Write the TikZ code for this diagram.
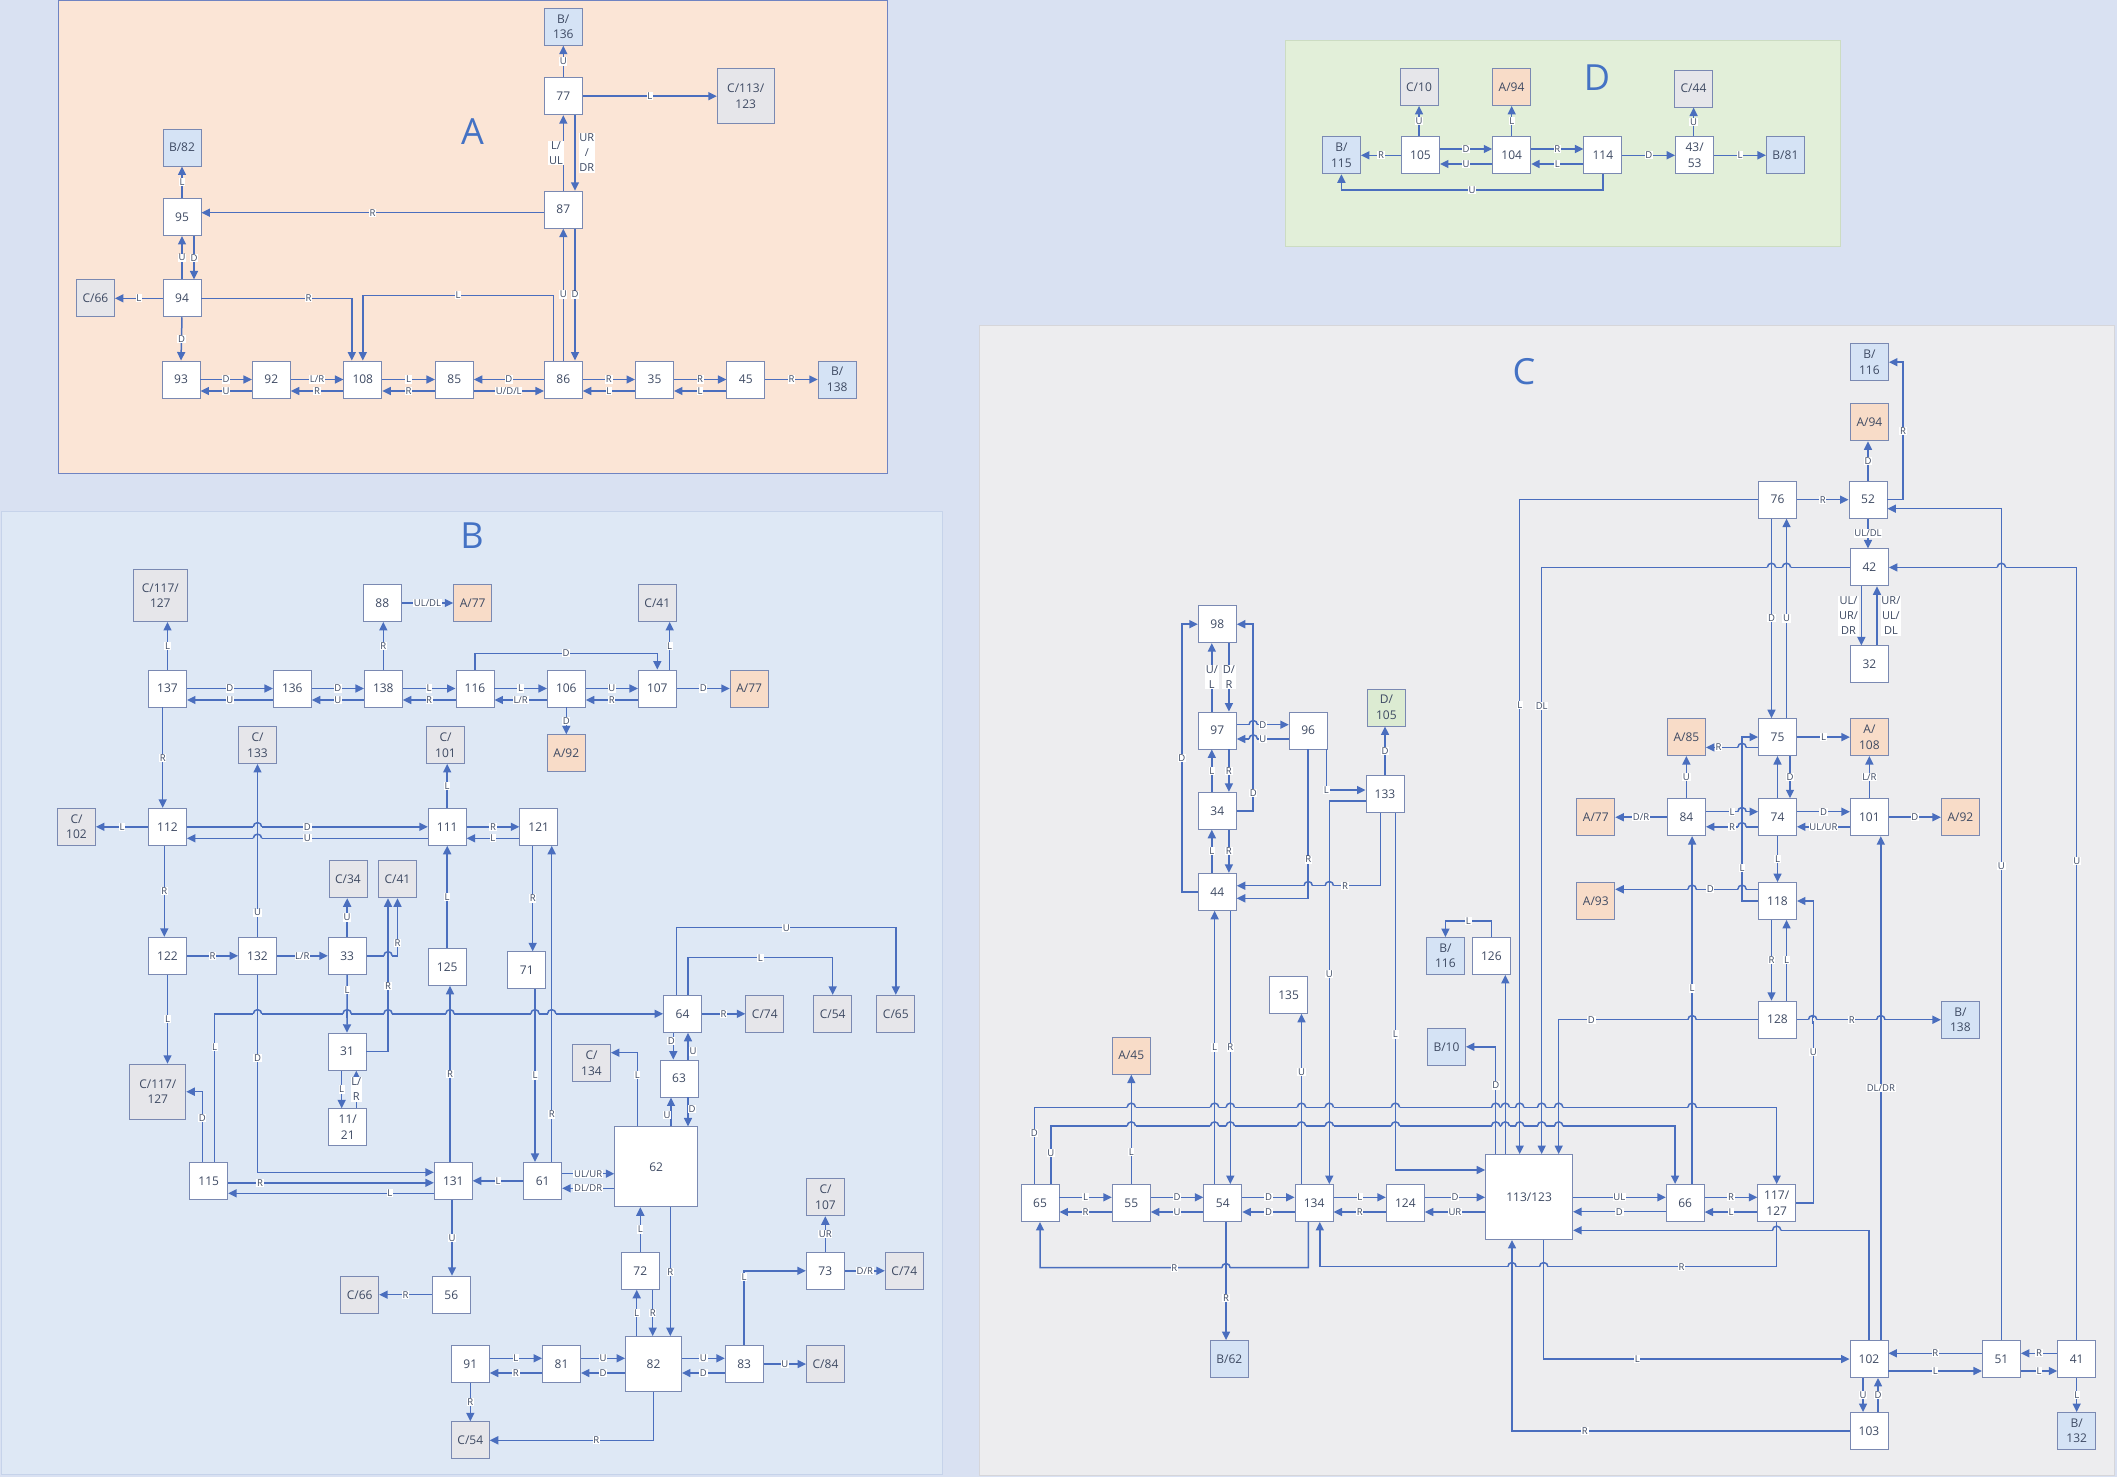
\documentclass[tikz,border=0pt]{standalone}
\usepackage{fontspec}
\setmainfont{Open Sans}
\usetikzlibrary{arrows.meta,calc}
\definecolor{pagebg}{HTML}{D9E1F2}
\definecolor{Afill}{HTML}{FBE5D6}
\definecolor{Bfill}{HTML}{DEE8F5}
\definecolor{Cfill}{HTML}{EDEDEF}
\definecolor{Dfill}{HTML}{E2EFD9}
\definecolor{Aframe}{HTML}{6F83C2}
\definecolor{Bframe}{HTML}{C6D3EA}
\definecolor{Cframe}{HTML}{D6D6DA}
\definecolor{Dframe}{HTML}{CCDCC2}
\definecolor{nbd}{HTML}{7A89B2}
\definecolor{ntx}{HTML}{3E4A63}
\definecolor{ec}{HTML}{4A6EBE}
\definecolor{crefc}{HTML}{E6E6EA}
\definecolor{arefc}{HTML}{F8DCC8}
\definecolor{brefc}{HTML}{D5E3F5}
\definecolor{drefc}{HTML}{DCEBD2}
\definecolor{letc}{HTML}{4472C4}
\newcommand\hpairA[6]{%
  \draw[ar] ([yshift=#5]#1.east) -- node[lb]{#3} ([yshift=#5]#1.east -| #2.west);
  \draw[ar] ([yshift=#6]#1.east -| #2.west) -- node[lb]{#4} ([yshift=#6]#1.east);}
\newcommand\hpairB[6]{%
  \draw[ar] ([yshift=#5]#1.east -| #2.west) -- node[lb]{#3} ([yshift=#5]#1.east);
  \draw[ar] ([yshift=#6]#1.east) -- node[lb]{#4} ([yshift=#6]#1.east -| #2.west);}
% line hop: x, y, background colour
\newcommand\hop[3]{%
  \fill[#3] (#1-4.2,#2-1.4) rectangle (#1+4.2,#2+1.4);
  \draw[ec,line width=1.5pt] (#1,#2-4.5) -- (#1,#2+4.5);
  \draw[ec,line width=1.5pt] (#1-4.2,#2) arc[start angle=180,end angle=360,radius=4.2];}
\begin{document}
\begin{tikzpicture}[x=1pt,y=-1pt,
  box/.style={draw=nbd, line width=0.9pt, fill=white, minimum width=38pt, minimum height=37pt, inner sep=0pt, text=ntx, font=\fontsize{12}{15.5}\selectfont, align=center},
  cref/.style={box, fill=crefc},
  aref/.style={box, fill=arefc},
  bref/.style={box, fill=brefc},
  dref/.style={box, fill=drefc},
  ar/.style={draw=ec, line width=1.5pt, -{Triangle[length=8.5pt,width=8pt]}},
  lb/.style={fill=white, inner sep=0.7pt, text=ntx, font=\fontsize{9.5}{11}\selectfont},
  lbm/.style={lb, align=center, font=\fontsize{11}{15}\selectfont},
  regl/.style={text=letc, font=\fontsize{36}{36}\selectfont, inner sep=0pt}]
\useasboundingbox (0,0) rectangle (2117,1477);
\fill[pagebg] (0,0) rectangle (2117,1477);
% region frames
\draw[fill=Afill, draw=Aframe, line width=1pt] (58,1) rectangle (887,473);
\draw[fill=Bfill, draw=Bframe, line width=1pt] (1,511) rectangle (942,1474);
\draw[fill=Cfill, draw=Cframe, line width=1pt] (979,325) rectangle (2114,1475);
\draw[fill=Dfill, draw=Dframe, line width=1pt] (1285,41) rectangle (1840,246);
\node[regl] (labA) at (472.5,132) {A};
\node[regl] (labB) at (472,536) {B};
\node[regl] (labC) at (1524,372) {C};
\node[regl] (labD) at (1597,78) {D};

% ================= A =================
\node[box] (a77) at (563.3,96.2) {77};
\node[bref] (aB136) at (563.3,26.8) {B/\\136};
\node[cref, minimum width=57pt, minimum height=55pt] (aC113) at (745.7,96.2) {C/113/\\123};
\node[box] (a87) at (563.3,209.7) {87};
\node[bref] (aB82) at (182,147.5) {B/82};
\node[box] (a95) at (182,217) {95};
\node[box] (a94) at (182,298.3) {94};
\node[cref] (aC66) at (95.5,298.3) {C/66};
\node[box] (a93) at (181,379.5) {93};
\node[box] (a92) at (271.3,379.5) {92};
\node[box] (a108) at (362.8,379.5) {108};
\node[box] (a85) at (454.3,379.5) {85};
\node[box] (a86) at (563.3,379.5) {86};
\node[box] (a35) at (654.5,379.5) {35};
\node[box] (a45) at (745.8,379.5) {45};
\node[bref] (aB138) at (837.2,379.5) {B/\\138};

\draw[ar] (a77.north) -- node[lb]{U} (aB136.south);
\draw[ar] (a77.east) -- node[lb]{L} (aC113.west);
\draw[ar] (a87.north) -- node[lbm,anchor=east,xshift=1pt]{L/\\UL} (a77.south);
\draw[ar] ([xshift=11.7pt]a77.south) -- node[lbm,anchor=west,xshift=3pt]{UR\\/\\DR} ([xshift=11.7pt]a87.north);
\draw[ar] (a86.north) -- node[lb]{U} (a87.south);
\draw[ar] ([xshift=11.7pt]a87.south) -- node[lb]{D} ([xshift=11.7pt]a86.north);
\draw[ar] ([yshift=-3pt]a87.west) -- node[lb]{R} ([yshift=-3pt]a87.west -| a95.east);
\draw[ar] (a95.north) -- node[lb]{L} (aB82.south);
\draw[ar] (a94.north) -- node[lb]{U} (a95.south);
\draw[ar] ([xshift=12pt]a95.south) -- node[lb]{D} ([xshift=12pt]a94.north);
\draw[ar] (a94.west) -- node[lb]{L} (aC66.east);
\draw[ar] (a94.south) -- node[lb]{D} (a93.north);
\draw[ar] (a94.east) -| node[lb,pos=0.356]{R} ([xshift=-11pt]a108.north);
\draw[ar] ([xshift=-10pt]a86.north) -- (553.3,295.3) -- node[lb]{L} (362.8,295.3) -- (a108.north);
\hpairA{a93}{a92}{D}{U}{0pt}{-11.5pt}
\hpairA{a92}{a108}{L/R}{R}{0pt}{-11.5pt}
\hpairA{a108}{a85}{L}{R}{0pt}{-11.5pt}
\hpairB{a85}{a86}{D}{U/D/L}{0pt}{-11.5pt}
\hpairA{a86}{a35}{R}{L}{0pt}{-11.5pt}
\hpairA{a35}{a45}{R}{L}{0pt}{-11.5pt}
\draw[ar] (a45.east) -- node[lb]{R} (aB138.west);

% ================= D =================
\node[cref] (dC10) at (1419,87) {C/10};
\node[aref] (dA94) at (1511.5,87) {A/94};
\node[cref] (dC44) at (1693.5,88.7) {C/44};
\node[bref] (dB115) at (1341.4,155.3) {B/\\115};
\node[box] (d105) at (1420.5,155.3) {105};
\node[box] (d104) at (1511.7,155.3) {104};
\node[box] (d114) at (1602.8,155.3) {114};
\node[box] (d43) at (1694.6,155.3) {43/\\53};
\node[bref] (dB81) at (1785.4,155.3) {B/81};

\draw[ar] ([xshift=-1.5pt]d105.north) -- node[lb]{U} ([xshift=-1.5pt]d105.north |- dC10.south);
\draw[ar] (d104.north) -- node[lb]{L} (d104.north |- dA94.south);
\draw[ar] ([xshift=-1pt]d43.north) -- node[lb]{U} ([xshift=-1pt]d43.north |- dC44.south);
\draw[ar] (d105.west) -- node[lb]{R} (dB115.east);
\hpairA{d105}{d104}{D}{U}{6.3pt}{-8.7pt}
\hpairA{d104}{d114}{R}{L}{6.3pt}{-8.7pt}
\draw[ar] (d114.east) -- node[lb]{D} (d43.west);
\draw[ar] (d43.east) -- node[lb]{L} (dB81.west);
\draw[ar] (d114.south) -- (1602.8,190) -- node[lb]{U} (1341.4,190) -- (dB115.south);

% ================= B =================
\node[cref, minimum width=54pt, minimum height=52pt] (bC117t) at (160.3,595.5) {C/117/\\127};
\node[box] (b88) at (382.3,603) {88};
\node[aref] (bA77t) at (472.7,603) {A/77};
\node[cref] (bC41t) at (657.3,603) {C/41};
\node[box] (b137) at (167.5,688.5) {137};
\node[box] (b136) at (292.3,688.5) {136};
\node[box] (b138) at (383.3,688.5) {138};
\node[box] (b116) at (475,688.5) {116};
\node[box] (b106) at (566.3,688.5) {106};
\node[box] (b107) at (657.3,688.5) {107};
\node[aref] (bA77r) at (749.2,688.5) {A/77};
\node[aref] (bA92) at (566.3,753.3) {A/92};
\node[cref] (bC133) at (257.5,745) {C/\\133};
\node[cref] (bC101) at (445.5,745) {C/\\101};
\node[cref] (bC102) at (76.5,826.8) {C/\\102};
\node[box] (b112) at (167.5,826.8) {112};
\node[box] (b111) at (447.2,826.8) {111};
\node[box] (b121) at (538.7,826.8) {121};
\node[cref] (bC34) at (348,879.3) {C/34};
\node[cref] (bC41m) at (397.5,879.3) {C/41};
\node[box] (b122) at (167.5,955.8) {122};
\node[box] (b132) at (257.5,955.8) {132};
\node[box] (b33) at (347.2,955.8) {33};
\node[box] (b125) at (447.2,966.8) {125};
\node[box] (b71) at (526.8,970.2) {71};
\node[box] (b31) at (347,1051.7) {31};
\node[box] (b1121) at (347.8,1127.2) {11/\\21};
\node[cref, minimum width=56pt, minimum height=55pt] (bC117b) at (157.8,1091.7) {C/117/\\127};
\node[box] (b115) at (208.7,1180.8) {115};
\node[box] (b131) at (453.3,1180.8) {131};
\node[box] (b61) at (542.7,1180.8) {61};
\node[box, minimum width=83pt, minimum height=80pt] (b62) at (656.2,1166.8) {62};
\node[box] (b56) at (451.3,1294.7) {56};
\node[cref] (bC66) at (359.7,1294.7) {C/66};
\node[box] (b64) at (682.5,1013.8) {64};
\node[cref] (bC74u) at (764.8,1013.8) {C/74};
\node[cref] (bC54u) at (832.7,1013.8) {C/54};
\node[cref] (bC65) at (895.8,1013.8) {C/65};
\node[cref] (bC134) at (591.5,1063.2) {C/\\134};
\node[box] (b63) at (679,1078.5) {63};
\node[cref] (bC107) at (825.5,1197.3) {C/\\107};
\node[box] (b72) at (640.3,1270.8) {72};
\node[box] (b73) at (825.3,1270.8) {73};
\node[cref] (bC74l) at (904.3,1270.8) {C/74};
\node[box] (b91) at (470.3,1364) {91};
\node[box] (b81) at (561.5,1364) {81};
\node[box, minimum width=56pt, minimum height=55pt] (b82) at (653.5,1364) {82};
\node[box] (b83) at (744.2,1364) {83};
\node[cref] (bC84) at (825.5,1364) {C/84};
\node[cref] (bC54l) at (470.3,1440.3) {C/54};

\draw[ar] (b137.north) -- node[lb]{L} (b137.north |- bC117t.south);
\hpairA{b137}{b136}{D}{U}{0pt}{-11.5pt}
\hpairA{b136}{b138}{D}{U}{0pt}{-11.5pt}
\hpairA{b138}{b116}{L}{R}{0pt}{-11.5pt}
\hpairA{b116}{b106}{L}{L/R}{0pt}{-11.5pt}
\hpairA{b106}{b107}{U}{R}{0pt}{-11.5pt}
\draw[ar] (b138.north) -- node[lb]{R} (b138.north |- b88.south);
\draw[ar] (b88.east) -- node[lb]{UL/DL} (bA77t.west);
\draw[ar] (b116.north) -- (475,653.3) -- node[lb]{D} (657.3,653.3) -- (b107.north);
\draw[ar] ([xshift=12.4pt]b107.north) -- node[lb]{L} ([xshift=12.4pt]bC41t.south);
\draw[ar] (b107.east) -- node[lb]{D} (bA77r.west);
\draw[ar] (b106.south) -- node[lb]{D} (bA92.north);
\draw[ar] ([xshift=-4.8pt]b137.south) -- node[lb]{R} ([xshift=-4.8pt]b112.north);
\draw[ar] (b112.west) -- node[lb]{L} (bC102.east);
\hpairA{b112}{b111}{D}{U}{0pt}{-11.5pt}
\hpairA{b111}{b121}{R}{L}{0pt}{-11.5pt}
\draw[ar] (b111.north) -- node[lb]{L} (b111.north |- bC101.south);
\draw[ar] (b125.north) -- node[lb]{L} (b125.north |- b111.south);
\draw[ar] ([xshift=-6pt]b121.south) -- node[lb]{R} ([xshift=-6pt]b121.south |- b71.north);
\draw[ar] ([xshift=9pt]b61.north) -- node[lb,pos=0.15]{R} ([xshift=9pt]b61.north |- b121.south);
\draw[ar] ([xshift=8.2pt]b71.south) -- node[lb]{L} ([xshift=8.2pt]b71.south |- b61.north);
\draw[ar] ([xshift=-3.2pt]b112.south) -- node[lb]{R} ([xshift=-3.2pt]b122.north);
\draw[ar] (b122.east) -- node[lb]{R} (b132.west);
\draw[ar] (b132.east) -- node[lb]{L/R} (b33.west);
\draw[ar] (b132.north) -- node[lb,pos=0.14]{U} (bC133.south);
\draw[ar] (b33.north) -- node[lb]{U} (b33.north |- bC34.south);
\draw[ar] (b33.east) -| node[lb,pos=0.61]{R} (bC41m.south);
\draw[ar] (b31.east) -| node[lb,pos=0.715]{R} ([xshift=-9.5pt]bC41m.south);
\draw[ar] (b33.south) -- node[lb,pos=0.26]{L} (b31.north);
\draw[ar] ([xshift=-5.3pt]b31.south) -- node[lb]{L} ([xshift=-5.3pt]b31.south |- b1121.north);
\draw[ar] ([xshift=8.5pt]b1121.north) -- node[lbm]{L/\\R} ([xshift=8.5pt]b1121.north |- b31.south);
\draw[ar] (b122.south) -- node[lb]{L} (b122.south |- bC117b.north);
\draw[ar] ([xshift=-6.4pt]b115.north) |- node[lb,pos=0.31]{D} (bC117b.east);
\draw[ar] ([xshift=6pt]b115.north) |- node[lb,pos=0.387]{L} (b64.west);
\draw[ar] (b132.south) |- node[lb,pos=0.21]{D} ([yshift=8.5pt]b131.west);
\draw[ar] ([yshift=-2pt]b115.east) -- node[lb,pos=0.155]{R} ([yshift=-2pt]b131.west);
\draw[ar] ([yshift=-12.5pt]b131.west) -- node[lb,pos=0.214]{L} ([yshift=-12.5pt]b115.east);
\draw[ar] ([xshift=-3.3pt]b131.north) -- node[lb]{R} ([xshift=-3.3pt]b131.north |- b125.south);
\draw[ar] (b61.west) -- node[lb]{L} (b131.east);
\draw[ar] ([xshift=-1.3pt]b131.south) -- node[lb]{U} ([xshift=-1.3pt]b131.south |- b56.north);
\draw[ar] (b56.west) -- node[lb]{R} (bC66.east);
\draw[ar] ([yshift=7.1pt]b61.east) -- node[lb]{UL/UR} ([yshift=7.1pt]b61.east -| b62.west);
\draw[ar] ([yshift=-7.5pt]b61.east -| b62.west) -- node[lb]{DL/DR} ([yshift=-7.5pt]b61.east);
\draw[ar] ([xshift=-18.9pt]b62.north) |- node[lb,pos=0.35]{L} ([yshift=10.5pt]bC134.east);
\draw[ar] ([xshift=14.8pt]b62.north) -- node[lb,pos=0.4,xshift=-4pt]{U} ([xshift=14.8pt]b62.north |- b63.south);
\draw[ar] ([xshift=9pt]b63.south) -- node[lb,pos=0.4,xshift=4pt]{D} ([xshift=9pt]b63.south |- b62.north);
\draw[ar] ([xshift=-9.2pt]b64.south) -- node[lb,pos=0.3,xshift=-2pt]{D} ([xshift=-9.2pt]b64.south |- b63.north);
\draw[ar] ([xshift=9pt]b63.north) -- node[lb,pos=0.3,xshift=5pt]{U} ([xshift=9pt]b63.north |- b64.south);
\draw[ar] (b64.east) -- node[lb]{R} (bC74u.west);
\draw[ar] ([xshift=5.5pt]b64.north) -- (688,957.7) -- node[lb]{L} (832.7,957.7) -- (bC54u.north);
\draw[ar] ([xshift=-5.8pt]b64.north) -- (676.7,927.7) -- node[lb]{U} (895.8,927.7) -- (bC65.north);
\draw[ar] (b72.north) -- node[lb]{L} (b72.north |- b62.south);
\draw[ar] ([xshift=14.1pt]b62.south) -- node[lb]{R} ([xshift=14.1pt]b62.south |- b82.north);
\draw[ar] ([xshift=-16.8pt]b82.north) -- node[lb]{L} ([xshift=-16.8pt]b82.north |- b72.south);
\draw[ar] ([xshift=12.4pt]b72.south) -- node[lb]{R} ([xshift=12.4pt]b72.south |- b82.north);
\hpairA{b91}{b81}{L}{R}{5.7pt}{-9pt}
\hpairA{b81}{b82}{U}{D}{5.7pt}{-9pt}
\hpairA{b82}{b83}{U}{D}{5.7pt}{-9pt}
\draw[ar] (b83.east) -- node[lb]{U} (bC84.west);
\draw[ar] (b83.north) |- node[lb,pos=0.46]{L} (b73.west);
\draw[ar] (b73.north) -- node[lb]{UR} (b73.north |- bC107.south);
\draw[ar] (b73.east) -- node[lb]{D/R} (bC74l.west);
\draw[ar] (b91.south) -- node[lb]{R} (bC54l.north);
\draw[ar] (b82.south) |- node[lb,pos=0.675]{R} (bC54l.east);
% hops in B
\hop{257.5}{826.8}{Bfill}
\hop{257.5}{838.3}{Bfill}
\hop{388}{955.8}{Bfill}
\foreach \hx in {257.5,347.1,388,450,535,551.7} {\hop{\hx}{1013.8}{Bfill}}

% ================= C =================
\node[bref] (cB116t) at (1869.4,362.2) {B/\\116};
\node[aref] (cA94) at (1869.4,422.3) {A/94};
\node[box] (c76) at (1777.5,499.7) {76};
\node[box] (c52) at (1868,499.7) {52};
\node[box] (c42) at (1869.4,567.4) {42};
\node[box] (c32) at (1869.4,664.4) {32};
\node[aref] (cA85) at (1686.4,737.1) {A/85};
\node[box] (c75) at (1777.5,737.1) {75};
\node[aref] (cA108) at (1869.4,737.1) {A/\\108};
\node[aref] (cA77) at (1595.8,817.2) {A/77};
\node[box] (c84) at (1686.4,817.2) {84};
\node[box] (c74) at (1777.5,817.2) {74};
\node[box] (c101) at (1869.4,817.2) {101};
\node[aref] (cA92) at (1960.4,817.2) {A/92};
\node[aref] (cA93) at (1595.8,901) {A/93};
\node[box] (c118) at (1777.5,901) {118};
\node[box] (c128) at (1777.5,1019.7) {128};
\node[bref] (cB138) at (1960.4,1019.7) {B/\\138};
\node[box] (c98) at (1217.3,624.2) {98};
\node[box] (c97) at (1217.3,730.5) {97};
\node[box] (c34) at (1217.3,810.8) {34};
\node[box] (c44) at (1217.3,891.8) {44};
\node[box] (c96) at (1308.2,730.5) {96};
\node[box] (c133) at (1385,794.3) {133};
\node[dref] (cD105) at (1386.4,707.5) {D/\\105};
\node[bref] (cB116m) at (1445.4,956) {B/\\116};
\node[box] (c126) at (1491.4,956) {126};
\node[box] (c135) at (1288.6,994.8) {135};
\node[aref] (cA45) at (1131.3,1055.7) {A/45};
\node[bref] (cB10) at (1446.5,1046.8) {B/10};
\node[box] (c65) at (1040,1203) {65};
\node[box] (c55) at (1131.3,1203) {55};
\node[box] (c54) at (1222.8,1203) {54};
\node[box] (c134) at (1314.1,1203) {134};
\node[box] (c124) at (1405.3,1203) {124};
\node[box, minimum width=87pt, minimum height=85pt] (c113) at (1529.1,1197) {113/123};
\node[box] (c66) at (1685.2,1203) {66};
\node[box] (c117) at (1776.7,1203) {117/\\127};
\node[bref] (cB62) at (1229.3,1359) {B/62};
\node[box] (c102) at (1869,1359) {102};
\node[box] (c51) at (2001.4,1359) {51};
\node[box] (c41) at (2076.7,1359) {41};
\node[box] (c103) at (1869,1431) {103};
\node[bref] (cB132) at (2076.7,1431) {B/\\132};

\draw[ar] (c52.north) -- node[lb]{D} (c52.north |- cA94.south);
\draw[ar] (c52.east) -| node[lb,pos=0.75]{R} ([xshift=14.2pt]cB116t.east) -- (cB116t.east);
\draw[ar] (c76.east) -- node[lb]{R} (c52.west);
\draw[ar] (c52.south) -- node[lb]{UL/DL} (c52.south |- c42.north);
\draw[ar] (c76.west) -| node[lb,pos=0.657]{L} ([xshift=-9.4pt]c113.north);
\draw[ar] (c42.west) -| node[lb,pos=0.618]{DL} ([xshift=12.6pt]c113.north);
\draw[ar] ([xshift=-6pt]c76.south) -- node[lb]{D} ([xshift=-6pt]c75.north);
\draw[ar] ([xshift=9pt]c75.north) -- node[lb]{U} ([xshift=9pt]c76.south);
\draw[ar] ([xshift=-8pt]c42.south) -- node[lbm,anchor=east,xshift=-2pt]{UL/\\UR/\\DR} ([xshift=-8pt]c32.north);
\draw[ar] ([xshift=7.6pt]c32.north) -- node[lbm,anchor=west,xshift=3pt]{UR/\\UL/\\DL} ([xshift=7.6pt]c42.south);
\draw[ar] (c51.north) |- node[lb,pos=0.285]{U} ([yshift=-9pt]c52.east);
\draw[ar] (c41.north) |- node[lb,pos=0.31]{U} (c42.east);
\draw[ar] (c75.east) -- node[lb]{L} (cA108.west);
\draw[ar] ([yshift=-10.3pt]c75.west) -- node[lb,pos=0.755]{R} ([yshift=-10.3pt]c75.west -| cA85.east);
\draw[ar] (c74.north) -- (c75.south);
\draw[ar] ([xshift=12.5pt]c75.south) -- node[lb]{D} ([xshift=12.5pt]c74.north);
\draw[ar] (c101.north) -- node[lb]{L/R} (cA108.south);
\draw[ar] (c84.north) -- node[lb]{U} (cA85.south);
\draw[ar] (c84.west) -- node[lb]{D/R} (cA77.east);
\hpairA{c84}{c74}{L}{R}{5.5pt}{-9.6pt}
\hpairA{c74}{c101}{D}{UL/UR}{5.5pt}{-9.6pt}
\draw[ar] (c101.east) -- node[lb]{D} (cA92.west);
\draw[ar] (c74.south) -- node[lb]{L} (c118.north);
\draw[ar] (c118.west) -- (1742,901) |- node[lb,pos=0.1]{L} (c75.west);
\draw[ar] ([yshift=11.7pt]c118.west) -- node[lb,pos=0.335]{D} ([yshift=11.7pt]c118.west -| cA93.east);
\draw[ar] ([xshift=-6pt]c118.south) -- node[lb]{R} ([xshift=-6pt]c128.north);
\draw[ar] ([xshift=9pt]c128.north) -- node[lb]{L} ([xshift=9pt]c118.south);
\draw[ar] (c117.east) -| node[lb,pos=0.75]{U} ([xshift=16.3pt]c118.east) -- (c118.east);
\draw[ar] (c128.east) -- node[lb,pos=0.38]{R} (cB138.west);
\draw[ar] (c128.west) -| node[lb,pos=0.418]{D} ([xshift=29.6pt]c113.north);
\draw[ar] ([xshift=6.9pt]c66.north) -- node[lb,pos=0.562]{L} ([xshift=6.9pt]c66.north |- c84.south);
\draw[ar] ([xshift=11.8pt]c102.north) -- node[lb]{DL/DR} ([xshift=11.8pt]c102.north |- c101.south);
\draw[ar] (c102.north) |- ([yshift=-33.3pt]c113.east);
\hpairA{c113}{c66}{UL}{D}{-0.3pt}{-14.7pt}
\hpairA{c66}{c117}{R}{L}{5.7pt}{-9pt}
\hpairA{c124}{c113}{D}{UR}{5.7pt}{-9pt}
\hpairA{c134}{c124}{L}{R}{5.7pt}{-9pt}
\hpairA{c54}{c134}{D}{D}{5.7pt}{-9pt}
\hpairA{c55}{c54}{D}{U}{5.7pt}{-9pt}
\hpairA{c65}{c55}{L}{R}{5.7pt}{-9pt}
\draw[ar] ([xshift=-23.8pt]c113.north) -- ([xshift=-23.8pt]c113.north |- c126.south);
\draw[ar] ([xshift=-33.4pt]c113.north) |- node[lb,pos=0.32]{D} (cB10.east);
\draw[ar] (c126.north) -- (1491.4,921) -- node[lb]{L} (1445.4,921) -- (cB116m.north);
\draw[ar] ([xshift=10.4pt]c133.south) |- node[lb,pos=0.31]{L} ([yshift=27pt]c113.west);
\draw[ar] (c55.north) -- node[lb,pos=0.29]{L} (cA45.south);
\draw[ar] ([xshift=-5.7pt]c65.north) -- node[lb,pos=0.66]{D} (1034.3,1107.3) -| (c117.north);
\draw[ar] ([xshift=10.8pt]c65.north) -- node[lb,pos=0.54]{U} (1050.8,1126) -| ([xshift=-10.1pt]c66.north);
\draw[ar] ([xshift=-5.7pt]c134.south) -- (1308.4,1267.7) -| node[lb,pos=0.25]{R} (c65.south);
\draw[ar] (c117.south) -- (1776.7,1266.7) -| node[lb,pos=0.104]{R} ([xshift=5.7pt]c134.south);
\draw[ar] ([xshift=3.2pt]c54.south) -- node[lb,pos=0.645]{R} ([xshift=3.2pt]c54.south |- cB62.north);
\draw[ar] ([xshift=-8.2pt]c54.north) -- node[lb]{L} ([xshift=-8.2pt]c54.north |- c44.south);
\draw[ar] ([xshift=13pt]c44.south) -- node[lb]{R} ([xshift=13pt]c44.south |- c54.north);
\draw[ar] ([xshift=-12.6pt]c134.north) -- node[lb,pos=0.66]{U} ([xshift=-12.6pt]c134.north |- c135.south);
\draw[ar] ([yshift=-6.7pt]c133.west) -| node[lb,pos=0.726]{U} ([xshift=15.2pt]c134.north);
\draw[ar] ([xshift=-4.3pt]c133.south) |- node[lb,pos=0.624]{R} ([yshift=6.1pt]c44.east);
\draw[ar] (c96.south) |- node[lb,pos=0.37]{R} ([yshift=-6.5pt]c44.east);
\draw[ar] ([xshift=18.2pt]c96.south) |- node[lb,pos=0.5]{L} ([yshift=4.3pt]c133.west);
\draw[ar] (c133.north) -- node[lb]{D} (c133.north |- cD105.south);
\hpairA{c97}{c96}{D}{U}{5.8pt}{-8.5pt}
\draw[ar] ([xshift=-5.5pt]c97.north) -- node[lbm]{U/\\L} ([xshift=-5.5pt]c98.south);
\draw[ar] ([xshift=11.6pt]c98.south) -- node[lbm]{D/\\R} ([xshift=11.6pt]c97.north);
\draw[ar] ([xshift=-5.5pt]c34.north) -- node[lb]{L} ([xshift=-5.5pt]c97.south);
\draw[ar] ([xshift=11.6pt]c97.south) -- node[lb]{R} ([xshift=11.6pt]c34.north);
\draw[ar] ([xshift=-5.5pt]c44.north) -- node[lb]{L} ([xshift=-5.5pt]c34.south);
\draw[ar] ([xshift=11.6pt]c34.south) -- node[lb]{R} ([xshift=11.6pt]c44.north);
\draw[ar] (c44.west) -| node[lb,pos=0.75]{D} (1181.8,624.2) -- (c98.west);
\draw[ar] (c34.east) -| node[lb,pos=0.547]{D} (1253.2,624.2) -- (c98.east);
\hpairB{c102}{c51}{R}{L}{5.7pt}{-12pt}
\hpairB{c51}{c41}{R}{L}{5.7pt}{-12pt}
\draw[ar] (c41.south) -- node[lb]{L} (cB132.north);
\draw[ar] ([xshift=-6pt]c102.south) -- node[lb]{U} ([xshift=-6pt]c103.north);
\draw[ar] ([xshift=9pt]c103.north) -- node[lb]{D} ([xshift=9pt]c102.south);
\draw[ar] (c103.west) -| node[lb,pos=0.392]{R} ([xshift=-17.1pt]c113.south);
\draw[ar] ([xshift=14.6pt]c113.south) |- node[lb,pos=0.653]{L} (c102.west);
% hops in C
\foreach \hx in {1771.5,1786.5,2001.4} {\hop{\hx}{567.4}{Cfill}}
\foreach \hy in {747.4,811.7,826.8,889.3} {\hop{1742}{\hy}{Cfill}}
\hop{1692.1}{889.3}{Cfill}
\foreach \hx in {1692.1,1812.6,1880.8} {\hop{\hx}{1019.7}{Cfill}}
\hop{1253.2}{724.7}{Cfill}
\hop{1253.2}{739}{Cfill}
\hop{1308.2}{885.7}{Cfill}
\hop{1329.3}{885.7}{Cfill}
\foreach \hx in {1131.3,1214.6,1230.3,1301.5,1329.3,1395.4,1495.7,1505.3,1519.7,1541.7,1558.7,1692.1} {\hop{\hx}{1107.3}{Cfill}}
\foreach \hx in {1131.3,1214.6,1230.3,1301.5,1329.3,1395.4,1495.7,1505.3,1519.7,1541.7,1558.7} {\hop{\hx}{1126}{Cfill}}
\hop{1226}{1267.7}{Cfill}
\hop{1512}{1266.7}{Cfill}
\hop{1543.7}{1266.7}{Cfill}
\hop{1776.7}{1230.3}{Cfill}
\end{tikzpicture}
\end{document}
